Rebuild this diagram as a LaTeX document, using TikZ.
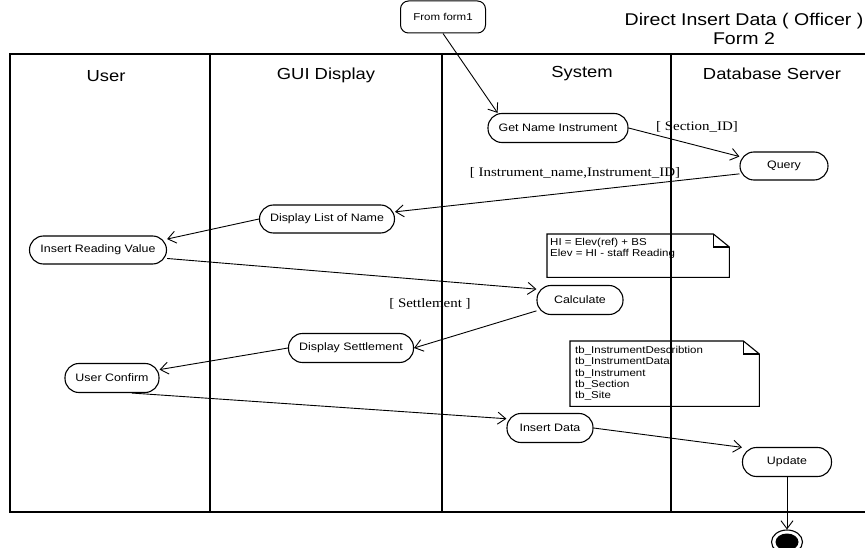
\documentclass[tikz,border=0pt]{standalone}
\usepackage{fontspec}
\setmainfont{Liberation Sans}[FakeStretch=1.15]
\newfontfamily\guardfont{Liberation Serif}[FakeStretch=1.15]
\usetikzlibrary{arrows.meta,calc,shapes.geometric}

\begin{document}
\begin{tikzpicture}[x=1pt, y=-1pt, >={Straight Barb[length=8pt,width=12pt]},
  act/.style={draw, line width=1.1pt, rounded corners=14pt, minimum height=29, inner sep=2pt, font=\fontsize{10.8}{12}\selectfont},
  lane/.style={font=\fontsize{16}{18}\selectfont},
  guard/.style={font=\guardfont\fontsize{13}{15}\selectfont},
  memo/.style={font=\fontsize{10}{11.3}\selectfont, align=left, inner sep=0pt, anchor=north west},
  flow/.style={->, line width=0.9pt}]
\useasboundingbox (0,0) rectangle (865,548);

% swimlanes
\draw[line width=1.3pt] (865,54) -- (10,54) -- (10,512) -- (865,512);
\draw[line width=1.3pt] (210,54) -- (210,512) (442,54) -- (442,512) (671,54) -- (671,512);
\node[lane] (luser) at (106,76) {User};
\node[lane] (lgui) at (326,75) {GUI Display};
\node[lane] (lsys) at (582,74) {System};
\node[lane] (ldb) at (772,74) {Database Server};

% title
\node[font=\fontsize{17}{19}\selectfont, align=center] (title) at (744,29) {Direct Insert Data ( Officer )\\Form 2};

% activities
\node[draw, line width=1pt, rounded corners=8pt, minimum width=85, minimum height=32, font=\fontsize{10}{11}\selectfont] (fromform) at (443,17) {From form1};
\node[act, minimum width=140] (getname) at (558,128) {Get Name Instrument};
\node[act, minimum width=88, minimum height=28] (query) at (784,166) {Query};
\node[act, minimum width=135, minimum height=28] (showlist) at (327,219) {Display List of Name};
\node[act, minimum width=137, minimum height=28] (reading) at (98,250) {Insert Reading Value};
\node[act, minimum width=86] (calc) at (580,300) {Calculate};
\node[act, minimum width=125] (showsettle) at (351,348) {Display Settlement};
\node[act, minimum width=94] (confirm) at (112,378) {User Confirm};
\node[act, minimum width=86] (insert) at (550,428) {Insert Data};
\node[act, minimum width=89] (update) at (787,462) {Update};
\node[draw, ellipse, minimum width=31, minimum height=24, line width=1.1pt] (finish) at (787,542) {};
\fill (finish.center) ellipse [x radius=11.5, y radius=8.5];

% guards
\node[guard] (secid) at (697,127) {[ Section\_ID]};
\node[guard] (instid) at (575,173) {[ Instrument\_name,Instrument\_ID]};
\node[guard] (settl) at (430,304) {[ Settlement ]};

% notes
\node[minimum width=182, minimum height=43, inner sep=0pt, anchor=north west] (memo1) at (547,234) {};
\draw[line width=1.1pt] (memo1.north west) -- ([xshift=-16pt]memo1.north east) -- ([yshift=-13pt]memo1.north east) -- (memo1.south east) -- (memo1.south west) -- cycle;
\draw[line width=1.1pt] ([xshift=-16pt]memo1.north east) |- ([yshift=-13pt]memo1.north east);
\node[memo] (memo1txt) at ($(memo1.north west)+(3,4)$) {HI = Elev(ref) + BS\\Elev = HI - staff Reading};

\node[minimum width=189, minimum height=65, inner sep=0pt, anchor=north west] (memo2) at (570,341) {};
\draw[line width=1.1pt] (memo2.north west) -- ([xshift=-16pt]memo2.north east) -- ([yshift=-13pt]memo2.north east) -- (memo2.south east) -- (memo2.south west) -- cycle;
\draw[line width=1.1pt] ([xshift=-16pt]memo2.north east) |- ([yshift=-13pt]memo2.north east);
\node[memo] (memo2txt) at ($(memo2.north west)+(5,5)$) {tb\_InstrumentDescribtion\\tb\_InstrumentData\\tb\_Instrument\\tb\_Section\\tb\_Site};

% flows
\draw[flow] (fromform.south) -- (getname.166);
\draw[flow] (getname.east) -- (query.168);
\draw[flow] (query.190) -- (showlist.6);
\draw[flow] (showlist.west) -- (reading.9);
\draw[flow] (reading.-7) -- (calc.166);
\draw[flow] (calc.194) -- (showsettle.east);
\draw[flow] (showsettle.west) -- (confirm.10);
\draw[flow] (confirm.-37) -- (insert.168);
\draw[flow] (insert.east) -- (update.162);
\draw[flow] (update.south) -- (finish.north);
\end{tikzpicture}
\end{document}
